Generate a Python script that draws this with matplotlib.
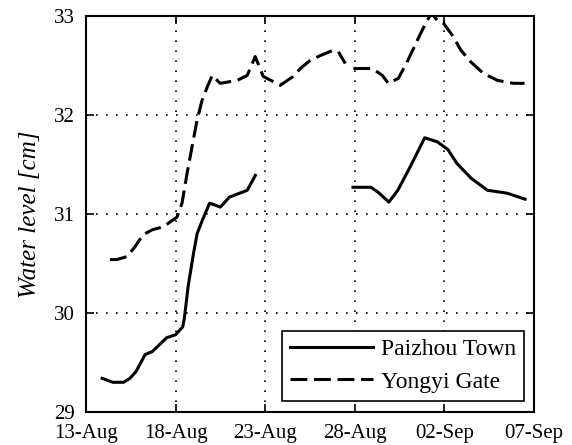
import numpy as np
import matplotlib
matplotlib.use("Agg")
import matplotlib.pyplot as plt

# x values: days after 13-Aug
x_ticklabels = ["13-Aug", "18-Aug", "23-Aug", "28-Aug", "02-Sep", "07-Sep"]
x_ticks = [0, 5, 10, 15, 20, 25]
y_ticks = [29, 30, 31, 32, 33]

paizhou_day = [0.9, 1.5, 2.1, 2.45, 2.8, 3.3, 3.7, 4.1, 4.5, 5.0, 5.4, 5.5, 5.7, 6.0,
               6.2, 6.5, 6.9, 7.5, 8.0, 9.0, 9.45, np.nan,
               14.9, 15.9, 16.3, 16.9, 17.4, 18.1, 18.9, 19.6, 20.2, 20.7, 21.5,
               22.4, 23.5, 24.5]
paizhou_level = [29.34, 29.30, 29.30, 29.34, 29.41, 29.58, 29.61, 29.68, 29.75, 29.78,
                 29.86, 29.96, 30.27, 30.6, 30.8, 30.94, 31.11, 31.07, 31.17, 31.24,
                 31.39, np.nan,
                 31.27, 31.27, 31.22, 31.12, 31.24, 31.48, 31.77, 31.73, 31.65, 31.51,
                 31.36, 31.24, 31.21, 31.15]

yongyi_day = [1.34, 1.73, 2.29, 2.74, 3.18, 3.69, 4.30, 4.86, 5.08, 5.36, 5.64, 5.92,
              6.2, 6.48, 6.76, 7.04, 7.49, 8.44, 9.0, 9.44, 9.89, 10.84, 11.56, 11.96,
              12.5, 13.07, 13.74, 14.08, 14.47, np.nan,
              14.92, 15.98, 16.54, 16.87, 17.43, 17.93, 18.27, 18.66, 19.05, 19.3,
              19.66, 19.94, 20.5, 20.9, 21.45, 22.18, 22.96, 23.85, 24.47]
yongyi_level = [30.54, 30.54, 30.57, 30.67, 30.79, 30.84, 30.87, 30.94, 30.97, 31.11,
                31.41, 31.68, 31.95, 32.15, 32.28, 32.40, 32.32, 32.35, 32.40, 32.59,
                32.39, 32.30, 32.39, 32.47, 32.55, 32.60, 32.65, 32.64, 32.52, np.nan,
                32.47, 32.47, 32.40, 32.32, 32.37, 32.54, 32.67, 32.82, 32.96, 33.03,
                32.94, 32.93, 32.79, 32.66, 32.54, 32.42, 32.35, 32.32, 32.32]

plt.rcParams['font.family'] = ['Liberation Serif', 'DejaVu Serif']

fig = plt.figure(figsize=(5.72, 4.45), dpi=100)
ax = fig.add_axes([0.1503, 0.0742, 0.7833, 0.8898])

ax.plot(paizhou_day, paizhou_level, color='black', lw=2.2, label='Paizhou Town')
ax.plot(yongyi_day, yongyi_level, color='black', lw=2.2, linestyle=(0, (5.5, 2.2)),
        label='Yongyi Gate')

ax.set_xlim(0, 25)
ax.set_ylim(29, 33)
ax.set_xticks(x_ticks)
ax.set_xticklabels(x_ticklabels)
ax.set_yticks(y_ticks)
ax.tick_params(direction='in', length=6, width=1.2, top=True, right=True,
               labelsize=15, colors='black')
ax.tick_params(axis='y', pad=8)
ax.tick_params(axis='x', pad=8.5)
ax.grid(True, linestyle=(0, (1, 5)), color='black', linewidth=1.2)
for s in ax.spines.values():
    s.set_linewidth(1.5)
ax.set_ylabel('Water level [cm]', fontsize=18, style='italic', labelpad=9)

leg = ax.legend(loc='lower right', bbox_to_anchor=(0.978, 0.028), fontsize=17,
                frameon=True, fancybox=False, edgecolor='black', framealpha=1,
                borderaxespad=0, handlelength=3.5, handletextpad=0.35,
                borderpad=0.35, labelspacing=0.45)
leg.get_frame().set_linewidth(1.2)

fig.savefig('out.png', dpi=100)
